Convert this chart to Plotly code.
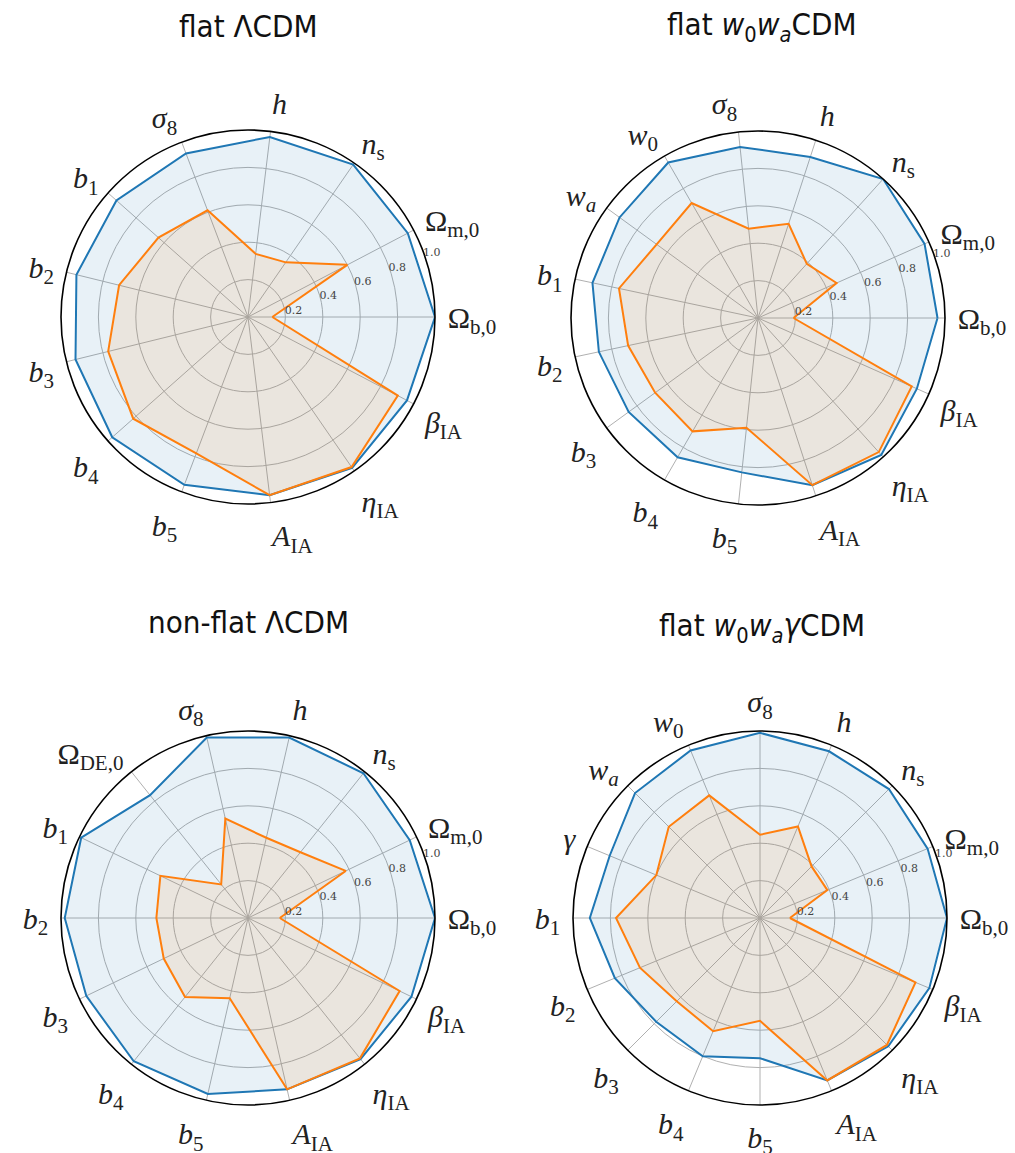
import plotly.graph_objects as go

W, H = 1015, 1153

# ---------------- data ----------------
titles = ["flat ΛCDM", "flat <i>w</i><sub>0</sub><i>w</i><sub><i>a</i></sub>CDM",
          "non-flat ΛCDM", "flat <i>w</i><sub>0</sub><i>w</i><sub><i>a</i></sub><i>γ</i>CDM"]

OB = "Ω<sub>b,0</sub>"
OM = "Ω<sub>m,0</sub>"
NS = "<i>n</i><sub>s</sub>"
HH = "<i>h</i>"
S8 = "<i>σ</i><sub>8</sub>"
W0 = "<i>w</i><sub>0</sub>"
WA = "<i>w</i><sub><i>a</i></sub>"
GA = "<i>γ</i>"
ODE = "Ω<sub>DE,0</sub>"
B1 = "<i>b</i><sub>1</sub>"
B2 = "<i>b</i><sub>2</sub>"
B3 = "<i>b</i><sub>3</sub>"
B4 = "<i>b</i><sub>4</sub>"
B5 = "<i>b</i><sub>5</sub>"
AIA = "<i>A</i><sub>IA</sub>"
EIA = "<i>η</i><sub>IA</sub>"
BIA = "<i>β</i><sub>IA</sub>"

params_tl = [OB, OM, NS, HH, S8, B1, B2, B3, B4, B5, AIA, EIA, BIA]
blue_tl = [1.0, 0.965, 0.99, 0.97, 0.935, 0.94, 0.945, 0.95, 0.97, 0.96, 0.96, 0.98, 0.96]
orange_tl = [0.13, 0.60, 0.355, 0.34, 0.61, 0.64, 0.71, 0.77, 0.82, 0.78, 0.96, 0.975, 0.905]

params_tr = [OB, OM, NS, HH, S8, W0, WA, B1, B2, B3, B4, B5, AIA, EIA, BIA]
blue_tr = [0.96, 0.975, 1.0, 0.905, 0.92, 0.96, 0.915, 0.905, 0.87, 0.855, 0.86, 0.83, 0.94, 0.985, 0.93]
orange_tr = [0.19, 0.46, 0.39, 0.53, 0.48, 0.71, 0.67, 0.76, 0.71, 0.68, 0.70, 0.59, 0.94, 0.965, 0.90]

params_bl = [OB, OM, NS, HH, S8, ODE, B1, B2, B3, B4, B5, AIA, EIA, BIA]
blue_bl = [1.0, 0.96, 0.99, 0.99, 0.99, 0.84, 0.99, 0.98, 0.96, 0.98, 0.965, 0.94, 0.965, 0.97]
orange_bl = [0.17, 0.58, 0.45, 0.44, 0.545, 0.23, 0.52, 0.49, 0.50, 0.54, 0.44, 0.94, 0.96, 0.90]

params_br = [OB, OM, NS, HH, S8, W0, WA, GA, B1, B2, B3, B4, B5, AIA, EIA, BIA]
blue_br = [1.0, 0.97, 0.975, 0.965, 0.99, 0.97, 0.945, 0.87, 0.91, 0.84, 0.785, 0.80, 0.75, 0.94, 0.97, 0.98]
orange_br = [0.16, 0.39, 0.39, 0.53, 0.445, 0.71, 0.69, 0.60, 0.77, 0.695, 0.63, 0.655, 0.55, 0.94, 0.96, 0.90]

radial_ticks = [0.2, 0.4, 0.6, 0.8, 1.0]
radial_ticktext = ["0.2", "0.4", "0.6", "0.8", "1.0"]

panels = [
    (params_tl, blue_tl, orange_tl),
    (params_tr, blue_tr, orange_tr),
    (params_bl, blue_bl, orange_bl),
    (params_br, blue_br, orange_br),
]

# ---------------- layout geometry (pixels) ----------------
centers = [(248, 317), (758, 318), (248, 918), (760, 918)]
R = 187
title_pos = [(248, 26), (762, 26), (248, 622), (762, 627)]

BLUE = "#1f77b4"
ORANGE = "#ff7f0e"
BLUE_FILL = "rgba(31,119,180,0.1)"
ORANGE_FILL = "rgba(255,127,14,0.1)"

fig = go.Figure()
layout = dict(width=W, height=H, margin=dict(l=0, r=0, t=0, b=0),
              paper_bgcolor="white", showlegend=False, annotations=[])

for i, (cats, blue, orange) in enumerate(panels):
    pname = "polar" if i == 0 else f"polar{i+1}"
    sub = pname
    fig.add_trace(go.Scatterpolar(
        r=blue + [blue[0]], theta=cats + [cats[0]], subplot=sub,
        mode="lines", line=dict(color=BLUE, width=2), fill="toself",
        fillcolor=BLUE_FILL, hoverinfo="skip"))
    fig.add_trace(go.Scatterpolar(
        r=orange + [orange[0]], theta=cats + [cats[0]], subplot=sub,
        mode="lines", line=dict(color=ORANGE, width=2), fill="toself",
        fillcolor=ORANGE_FILL, hoverinfo="skip"))
    cx, cy = centers[i]
    layout[pname] = dict(
        domain=dict(x=[(cx - R) / W, (cx + R) / W],
                    y=[1 - (cy + R) / H, 1 - (cy - R) / H]),
        bgcolor="white",
        angularaxis=dict(type="category", categoryarray=cats, rotation=0,
                         direction="counterclockwise",
                         showline=True, linecolor="black", linewidth=1.6,
                         showgrid=True, gridcolor="#b0b0b0", gridwidth=1.2,
                         ticks="outside", ticklen=6, tickcolor="rgba(0,0,0,0)",
                         tickfont=dict(family="Liberation Serif, DejaVu Serif, serif",
                                       size=30, color="#222")),
        radialaxis=dict(range=[0, 1.0], angle=22.5, showline=False,
                        tickvals=radial_ticks, ticktext=radial_ticktext,
                        ticks="", showgrid=True, gridcolor="#b0b0b0", gridwidth=1.2,
                        tickfont=dict(family="DejaVu Serif, serif", size=11, color="#444"),
                        tickangle=22.5),
    )
    tx, ty = title_pos[i]
    layout["annotations"].append(dict(
        text=titles[i], x=tx / W, y=1 - ty / H, xref="paper", yref="paper",
        xanchor="center", yanchor="middle", showarrow=False,
        font=dict(family="DejaVu Sans Condensed, Liberation Sans Narrow, Open Sans, sans-serif",
                  size=31, color="#111")))

fig.update_layout(**layout)
fig.write_html("out.html")
